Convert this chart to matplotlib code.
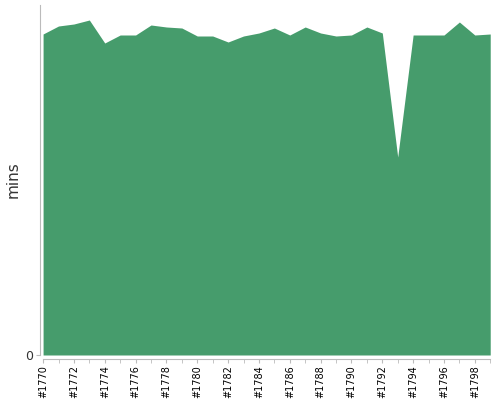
import matplotlib
matplotlib.use("Agg")
import matplotlib.pyplot as plt

years = list(range(1770, 1800))
values = [321, 329, 331, 335, 312, 320, 320, 330, 328, 327,
          319, 319, 313, 319, 322, 327, 320, 328, 322, 319,
          320, 328, 322, 198, 320, 320, 320, 333, 320, 321]
tick_years = years[::2]
tick_labels = ["#%d" % y for y in tick_years]

fig = plt.figure(figsize=(5, 4), dpi=100)
ax = fig.add_axes([0.08, 0.1125, 0.902, 0.875])
ax.fill_between(years, 0, values, color="#469c6c", linewidth=0)
ax.set_xlim(1770 - 0.2, 1799.05)
ax.set_ylim(0, 350)

for s in ["top", "right"]:
    ax.spines[s].set_visible(False)
ax.spines["left"].set_color("#bbbbbb")
ax.spines["bottom"].set_color("#bbbbbb")
ax.spines["bottom"].set_position(("outward", 3))
ax.spines["bottom"].set_bounds(1770, 1799)

ax.set_yticks([0])
ax.set_yticklabels(["0"], fontsize=9, color="#333333")
ax.tick_params(axis="y", length=3, color="#bbbbbb", pad=2)

ax.set_xticks(years, minor=True)
ax.set_xticks(tick_years)
ax.set_xticklabels(tick_labels, rotation=90, fontsize=7, color="#000000")
ax.tick_params(axis="x", which="both", length=3, color="#bbbbbb", pad=1.5)

ax.set_ylabel("mins", fontsize=11, color="#333333", labelpad=3)

fig.savefig("out.png", dpi=100)
